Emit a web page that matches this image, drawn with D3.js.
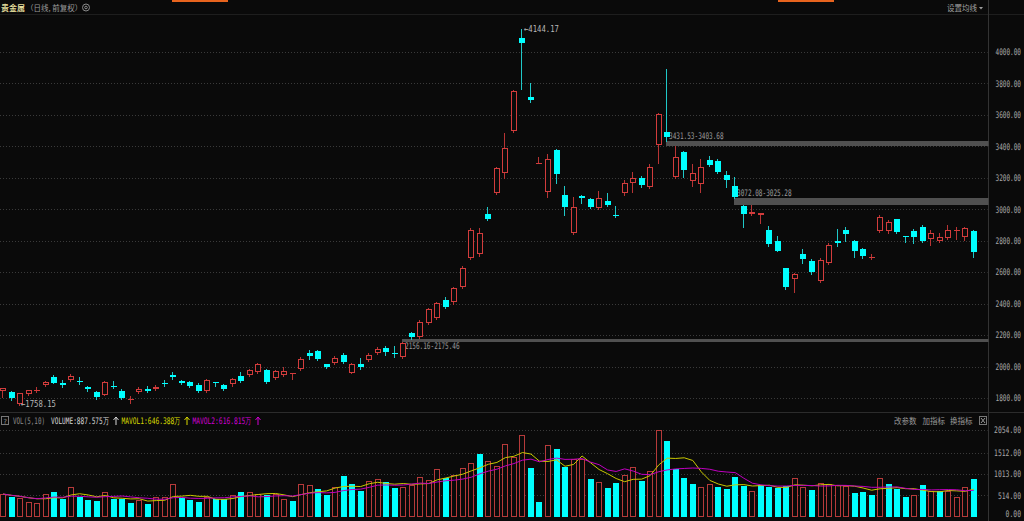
<!DOCTYPE html>
<html><head><meta charset="utf-8">
<script src="https://cdn.jsdelivr.net/npm/d3@7"></script>
<style>
html,body{margin:0;padding:0;background:#0a0a0a;overflow:hidden}
svg{display:block}
</style></head><body>
<svg id="c" width="1024" height="521"></svg>
<script>
// ---------- data ----------
const opens =[1846,1840,1762,1823,1850,1881,1931,1897,1916,1906,1870,1840,1819,1878,1844,1792,1836,1855,1859,1898,1944,1906,1900,1883,1844,1902,1881,1887,1942,1946,1965,1978,1925,1946,1959,1986,2088,2099,2014,2024,2071,1961,2014,2041,2084,2118,2088,2062,2211,2189,2276,2308,2420,2410,2505,2689,2715,2969,3100,3231,3498,4089,3712,3293,3111,3375,3090,2850,3083,3062,3005,3050,2962,3100,3164,3196,3139,3407,3492,3202,3361,3180,3158,3312,3304,3215,3147,3020,2967,2961,2865,2799,2624,2554,2713,2670,2545,2656,2795,2867,2799,2745,2693,2859,2863,2935,2829,2861,2884,2808,2799,2818,2866,2821,2861];
const highs =[1862,1846,1834,1853,1868,1911,1944,1914,1952,1935,1876,1844,1908,1910,1859,1813,1872,1878,1883,1914,1967,1914,1908,1893,1921,1903,1886,1927,1967,1984,2022,1984,1978,1999,1961,2059,2105,2105,2019,2067,2088,2022,2052,2084,2126,2130,2130,2156.16,2219,2296,2370,2410,2440,2505,2640,2880,2880,3011,3267,3482,3757,4144.17,3799,3333,3348,3382,3147,3079,3087,3071,3115,3104,3020,3185,3234,3210,3287,3611,3887,3403.68,3366,3287,3318,3337,3318,3244,3202,3025.28,3026,2978,2893,2829,2629,2594,2747,2683,2691,2785,2876,2884,2804,2755,2713,2963,2931,2937,2832,2872,2896,2867,2846,2899,2884,2888,2867];
const lows  =[1804,1787,1758.15,1821,1836,1877,1893,1868,1910,1887,1846,1794,1816,1862,1794,1770,1832,1836,1851,1876,1919,1889,1870,1838,1838,1876,1851,1876,1902,1940,1959,1895,1921,1940,1919,1981,2046,2041,1989,2019,2025,1956,1982,2035,2079,2073,2059,2057,2175.46,2184,2270,2300,2370,2400,2500,2680,2705,2930,3096,3196,3493,3763,3682,3291,3079,3164,2963,2842,3037,3010,3001,3020,2953,3090,3111,3142,3134,3295,3431.53,3198,3202,3147,3111,3274,3227,3142,3072.08,2888,2963,2914,2768,2731,2491,2475,2660,2588,2540,2651,2768,2799,2698,2687,2685,2855,2851,2851,2793,2787,2791,2770,2794,2812,2812,2804,2698];
const closes=[1862,1798,1830,1851,1852,1902,1897,1883,1940,1902,1857,1804,1900,1870,1798,1794,1855,1846,1872,1896,1935,1893,1876,1844,1914,1893,1855,1921,1906,1978,2014,1904,1971,1973,1960,2046,2069,2048,1999,2056,2031,2016,1999,2073,2109,2090,2080,2148,2189,2283,2365,2403,2380,2499,2626,2867,2848,2937,3259,3386,3750,4053,3693,3295,3316,3223,3012,3015,3069,3015,3072,3026,2958,3164,3196,3153,3266,3604,3460,3329,3248,3228,3270,3278,3238,3185,3079,2967,2982,2973,2778,2736,2503,2588,2681,2600,2675,2772,2783,2842,2734,2704,2695,2948,2916,2855,2821,2825,2796,2846,2825,2865,2867,2878,2730];
const volumes=[543,480,441,354,338,543,598,425,700,480,401,378,582,425,425,323,401,307,480,465,771,441,401,362,465,425,425,512,590,590,543,519,536,425,378,779,748,653,519,716,968,771,621,850,890,826,685,700,755,937,874,1126,913,992,1150,1268,1487,1329,1204,1724,1424,1929,1150,362,1693,1613,1173,1362,1362,890,819,677,795,984,1173,842,1094,2054,1787,1133,921,779,708,779,708,661,944,732,614,755,708,685,732,921,708,637,803,779,755,732,567,590,519,928,779,653,465,512,755,621,621,621,465,700,888];
const priceTicks=[1800,2000,2200,2400,2600,2800,3000,3200,3400,3600,3800,4000];
const volTicks=[0,514,1013,1512,2054];
const gapStart=[47,78,86];
const gapLow=[2156.16,3403.68,3025.28];
const gapHigh=[2175.46,3431.53,3072.08];
const gapText=["2156.16-2175.46","3431.53-3403.68","3072.08-3025.28"];
const maPeriods=[5,10];
const legendVals=["887.575","646.388","616.815"];

// ---------- setup ----------
const W=1024,H=521,BG="#0a0a0a",RED="#d23c3c",VRED="#b63a3a",CY="#00ffff";
const AX=988.5;
const svg=d3.select("#c");
svg.append("rect").attr("width",W).attr("height",H).attr("fill",BG);
const n=closes.length;
const x=d3.scaleLinear().domain([0,n-1]).range([3,973.8]);
const y=d3.scaleLinear().domain([1800,4000]).range([398,51.7]);
const vy=d3.scaleLinear().domain([0,2054]).range([517,430]);
const mono='"DejaVu Sans Mono","Liberation Mono",monospace';
const cjk='"Noto Sans CJK SC","Noto Sans",sans-serif';

// text squeezed horizontally to a target width (bitmap-like narrow font)
function sq(sel,xp,yp,txt,width,col,anchor){
  const t=sel.append("text").attr("font-family",mono).attr("font-size",9).attr("fill",col)
    .attr("text-anchor",anchor||"start").text(txt);
  const nat=t.node().getComputedTextLength();
  const s=width/nat;
  t.attr("transform",`translate(${xp},${yp}) scale(${s},1)`);
  return t;
}

// top UI
svg.append("rect").attr("x",172).attr("y",0).attr("width",56).attr("height",2).attr("fill","#e8641e");
svg.append("rect").attr("x",778).attr("y",0).attr("width",56).attr("height",2).attr("fill","#e8641e");
svg.append("line").attr("x1",0).attr("x2",W).attr("y1",14.5).attr("y2",14.5).attr("stroke","#1e1e1e");
svg.append("text").attr("x",1).attr("y",11).attr("font-family",cjk).attr("font-size",8).attr("font-weight","bold").attr("fill","#e2dc9c").text("贵金属");
svg.append("text").attr("x",26).attr("y",11).attr("font-family",cjk).attr("font-size",7.5).attr("fill","#9a9a9a").text("（日线, 前复权）");
svg.append("circle").attr("cx",86).attr("cy",7.5).attr("r",3.5).attr("fill","none").attr("stroke","#8a8a8a");
svg.append("circle").attr("cx",86).attr("cy",7.5).attr("r",1.3).attr("fill","none").attr("stroke","#8a8a8a");
svg.append("text").attr("x",947).attr("y",11).attr("font-family",cjk).attr("font-size",7.5).attr("fill","#a0a0a0").text("设置均线");
svg.append("path").attr("d","M979,7 L983,7 L981,9.5 Z").attr("fill","#a0a0a0");

// axis & separators
svg.append("line").attr("x1",AX).attr("x2",AX).attr("y1",0).attr("y2",H).attr("stroke","#333");
svg.append("line").attr("x1",0).attr("x2",W).attr("y1",412.5).attr("y2",412.5).attr("stroke","#2c2c2c");

// grid main
const grid=svg.append("g").attr("stroke","#3a3a3a").attr("stroke-dasharray","1,2");
grid.selectAll("line").data(priceTicks).join("line")
  .attr("x1",0).attr("x2",AX-1).attr("y1",d=>Math.round(y(d))+0.5).attr("y2",d=>Math.round(y(d))+0.5);
const vgrid=svg.append("g").attr("stroke","#3a3a3a").attr("stroke-dasharray","1,2");
vgrid.selectAll("line").data(volTicks.filter(d=>d>0)).join("line")
  .attr("x1",0).attr("x2",AX-1).attr("y1",d=>Math.round(vy(d))+0.5).attr("y2",d=>Math.round(vy(d))+0.5);

// price axis labels
function styleAxis(g,perChar){
  g.select(".domain").remove();
  g.selectAll("text").each(function(){
    const t=d3.select(this).attr("text-anchor","end").attr("font-family",mono).attr("font-size",9).attr("fill","#a8a8a8");
    const nat=this.getComputedTextLength();
    t.attr("transform",`scale(${(this.textContent.length*perChar)/nat},1)`);
  });
}
const pa=svg.append("g").attr("transform","translate(1021,0)")
  .call(d3.axisRight(y).tickValues(priceTicks).tickFormat(d3.format(".2f")).tickSize(0).tickPadding(0));
styleAxis(pa,3.65);
const va=svg.append("g").attr("transform","translate(1021,0)")
  .call(d3.axisRight(vy).tickValues(volTicks).tickFormat(d3.format(".2f")).tickSize(0).tickPadding(0));
styleAxis(va,3.85);
va.selectAll("text").attr("dy",d=>d===0?"-0.05em":"0.32em");

// gaps
gapStart.forEach((s,k)=>{
  const x0=Math.round(x(s))-1, yt=Math.round(y(gapHigh[k])), yb=Math.round(y(gapLow[k]));
  svg.append("rect").attr("x",x0).attr("y",yt).attr("width",AX-x0).attr("height",Math.max(3,yb-yt)).attr("fill","#505050");
  const upGap=closes[s+1]>closes[s];
  sq(svg,x0+3,upGap?yb+7:yt-2.5,gapText[k],gapText[k].length*3.65,"#9a9a9a");
});

// candles
const idx=d3.range(n);
const cg=svg.append("g").attr("shape-rendering","crispEdges");
idx.forEach(i=>{
  const up=closes[i]>=opens[i];
  const col=up?RED:CY;
  const left=Math.round(x(i)-3);
  const cx=left+2.5;
  const top=Math.round(y(Math.max(opens[i],closes[i]))), bot=Math.round(y(Math.min(opens[i],closes[i])));
  cg.append("line").attr("x1",cx).attr("x2",cx).attr("y1",Math.round(y(highs[i]))).attr("y2",Math.round(y(lows[i]))+1)
    .attr("stroke",up?"#b83434":"#1fc8c8");
  if(bot-top<2){
    cg.append("rect").attr("x",left).attr("y",top).attr("width",6).attr("height",1).attr("fill",col);
  } else if(up){
    cg.append("rect").attr("x",left+0.5).attr("y",top+0.5).attr("width",5).attr("height",bot-top-1).attr("fill",BG).attr("stroke",col);
  } else {
    cg.append("rect").attr("x",left).attr("y",top).attr("width",6).attr("height",bot-top).attr("fill",col);
  }
});

// hi/lo labels
const hiI=d3.maxIndex(highs), loI=d3.minIndex(lows);
sq(svg,Math.round(x(hiI))+2,Math.round(y(highs[hiI]))+3,"←"+d3.format(".2f")(highs[hiI]),35,"#b8b8b8");
sq(svg,Math.round(x(loI))+1,Math.round(y(lows[loI]))+2,"←"+d3.format(".2f")(lows[loI]),35,"#b8b8b8");

// volume bars
const vg=svg.append("g").attr("shape-rendering","crispEdges");
idx.forEach(i=>{
  const up=i===0?closes[i]>=opens[i]:closes[i]>=closes[i-1];
  const left=Math.round(x(i)-3);
  const top=Math.round(vy(volumes[i])), bot=Math.round(vy(0));
  if(up) vg.append("rect").attr("x",left+0.5).attr("y",top+0.5).attr("width",5).attr("height",bot-top-1).attr("fill",BG).attr("stroke",VRED);
  else vg.append("rect").attr("x",left).attr("y",top).attr("width",6).attr("height",bot-top).attr("fill",CY);
});

// MA lines
const maCols=["#c8c800","#c000c0"];
maPeriods.forEach((p,k)=>{
  const ma=idx.map(i=>d3.mean(volumes.slice(Math.max(0,i-p+1),i+1)));
  svg.append("path").datum(idx).attr("fill","none").attr("stroke",maCols[k]).attr("stroke-width",1)
    .attr("d",d3.line().x(i=>x(i)).y(i=>vy(ma[i])));
});

// legend
svg.append("rect").attr("x",1.5).attr("y",416.5).attr("width",7).attr("height",8).attr("fill","none").attr("stroke","#777");
svg.append("text").attr("x",5).attr("y",423.5).attr("text-anchor","middle").attr("font-family",mono).attr("font-size",7).attr("fill","#999").text("?");
sq(svg,13,424,"VOL(5,10)",32,"#8c8c8c");
sq(svg,51,424,"VOLUME:"+legendVals[0]+"万",58,"#d8d8d8");
sq(svg,121.5,424,"MAVOL1:"+legendVals[1]+"万",59,"#d8d800");
sq(svg,192.5,424,"MAVOL2:"+legendVals[2]+"万",59,"#d000d0");
[[116,"#d8d8d8"],[187,"#d8d800"],[258,"#d000d0"]].forEach(([ax,c])=>{
  svg.append("path").attr("d",`M${ax},417 L${ax-2.5},420 M${ax},417 L${ax+2.5},420 M${ax},417 L${ax},425`).attr("stroke",c).attr("fill","none");
});
[["改参数",894],["加指标",922.5],["换指标",950]].forEach(([t,xp])=>{
  svg.append("text").attr("x",xp).attr("y",424).attr("font-family",cjk).attr("font-size",7.5).attr("fill","#9a9a9a").text(t);
});
svg.append("rect").attr("x",979.5).attr("y",416.5).attr("width",7).attr("height",8).attr("fill","none").attr("stroke","#777");
svg.append("path").attr("d","M981,418 L985,423 M985,418 L981,423").attr("stroke","#999");
</script>
</body></html>
